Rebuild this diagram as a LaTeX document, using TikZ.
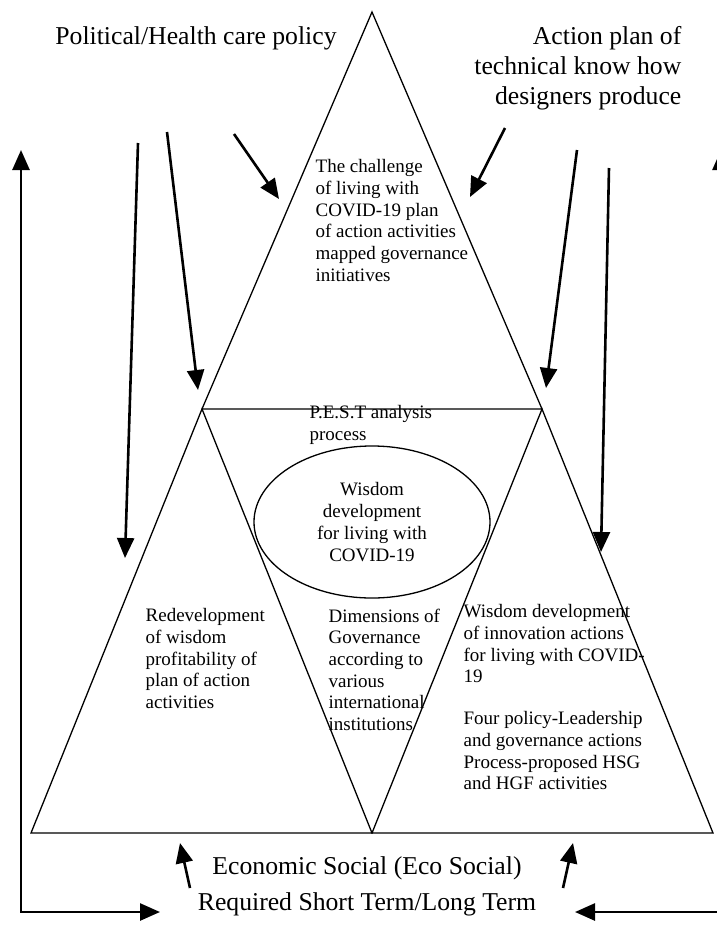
\documentclass[tikz,border=0pt]{standalone}
\usepackage{fontspec}
\setmainfont{Liberation Serif}
\usetikzlibrary{calc,arrows.meta}

\begin{document}
\begin{tikzpicture}[x=1pt, y=-1pt, line width=1.3pt,
  txt/.style={inner sep=0pt, align=left, font=\fontsize{19}{21.7}\selectfont},
  big/.style={inner sep=0pt, font=\fontsize{25.7}{30}\selectfont},
  arr/.style={line width=2.6pt, -{Triangle[length=20pt, width=17pt]}}]
  \clip (0,0) rectangle (717,930);

  \coordinate (A) at (372,12);
  \coordinate (B) at (202,409);
  \coordinate (C) at (542,409);
  \coordinate (D) at (31,833);
  \coordinate (E) at (372,833);
  \coordinate (F) at (713,833);
  \coordinate (O) at (372,522);

  \draw (A)--(B)--(C)--cycle;
  \draw (B)--(D)--(E)--cycle;
  \draw (C)--(E)--(F)--cycle;
  \draw (O) ellipse [x radius=118pt, y radius=76pt];

  % arrows from the top
  \coordinate (L1) at (138,143);  \coordinate (L1e) at (125,558);
  \coordinate (L2) at (167,132);  \coordinate (L2e) at (198,390);
  \coordinate (L3) at (234,134);  \coordinate (L3e) at (279,199);
  \coordinate (R1) at (505,128);  \coordinate (R1e) at (470,197);
  \coordinate (R2) at (577,150);  \coordinate (R2e) at (546,388);
  \coordinate (R3) at (609,168);  \coordinate (R3e) at (601,552);
  \foreach \s in {L1,L2,L3,R1,R2,R3}
    \draw[arr] (\s) -- (\s e);

  % feedback loops
  \coordinate (P) at (21,150);  \coordinate (Q) at (21,912);  \coordinate (S) at (160,912);
  \coordinate (P') at (721,150);  \coordinate (Q') at (721,912);  \coordinate (S') at (575,912);
  \draw[arr, {Triangle[length=20pt, width=17pt]}-{Triangle[length=20pt, width=17pt]}] (P)--(Q)--(S);
  \draw[arr, {Triangle[length=20pt, width=17pt]}-{Triangle[length=20pt, width=17pt]}] (P')--(Q')--(S');

  % arrows from the bottom
  \coordinate (U1) at (190,888);  \coordinate (U1e) at (180,843);
  \coordinate (U2) at (563,888);  \coordinate (U2e) at (573,843);
  \draw[arr] (U1) -- (U1e);
  \draw[arr] (U2) -- (U2e);

  \node[big] (pol) at (196,38) {Political/Health care policy};
  \node[big, align=right, anchor=north east] (act) at (682,25.5)
    {Action plan of\\technical know how\\designers produce};
  \node[big, align=center, font=\fontsize{25.7}{36}\selectfont] (eco) at (367,886)
    {Economic Social (Eco Social)\\Required Short Term/Long Term};

  \node[txt, anchor=north west] (top) at (315,159)
    {The challenge\\of living with\\COVID-19 plan\\of action activities\\mapped governance\\initiatives};
  \node[txt, anchor=north west] (pest) at (309,405) {P.E.S.T analysis\\process};
  \node[txt, align=center] (wis) at (O) {Wisdom\\development\\for living with\\COVID-19};
  \node[txt, anchor=north west] (left) at (145,608)
    {Redevelopment\\of wisdom\\profitability of\\plan of action\\activities};
  \node[txt, anchor=north west] (mid) at (328,608)
    {Dimensions of\\Governance\\according to\\various\\international\\institutions};
  \node[txt, anchor=north west] (right) at (463,604)
    {Wisdom development\\of innovation actions\\for living with COVID-\\19\\[20pt]Four policy-Leadership\\and governance actions\\Process-proposed HSG\\and HGF activities};
\end{tikzpicture}
\end{document}
